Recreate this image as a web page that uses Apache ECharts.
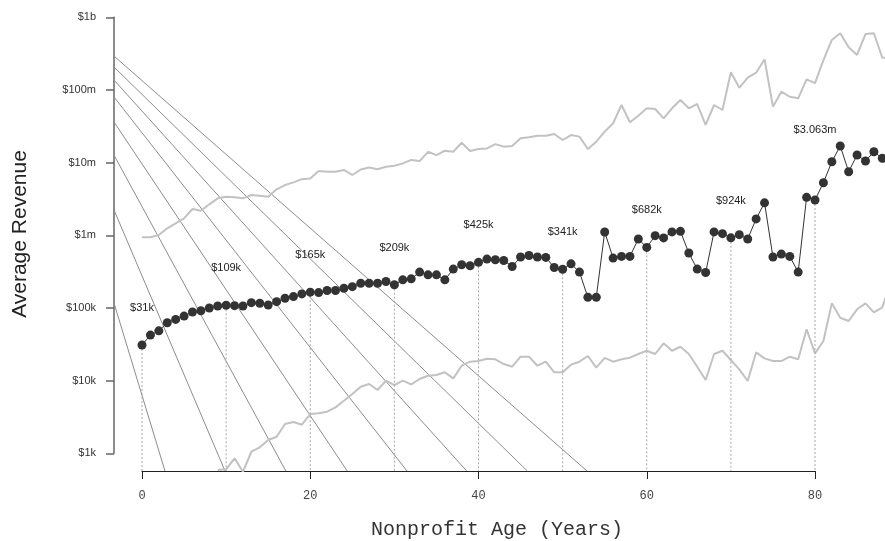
<!DOCTYPE html>
<html><head><meta charset="utf-8">
<script src="https://cdn.jsdelivr.net/npm/echarts/dist/echarts.min.js"></script>
<style>html,body{margin:0;padding:0;background:#fff}#c{width:885px;height:541px}</style>
</head><body><div id="c"></div>
<script>
// ---- data (dollars) ----
const ages = [0,1,2,3,4,5,6,7,8,9,10,11,12,13,14,15,16,17,18,19,20,21,22,23,24,25,26,27,28,29,30,31,32,33,34,35,36,37,38,39,40,41,42,43,44,45,46,47,48,49,50,51,52,53,54,55,56,57,58,59,60,61,62,63,64,65,66,67,68,69,70,71,72,73,74,75,76,77,78,79,80,81,82,83,84,85,86,87,88,89];
const meanRevenue = [31000,42400,48500,62700,69700,77400,88100,91800,100000,106700,109000,107600,106700,118300,116100,109900,122200,136100,143500,156300,165000,162900,173800,173800,187100,196800,219300,219300,218800,231200,209000,243800,251800,311900,285800,285800,243800,342800,393600,381100,425000,471000,461300,450800,372400,502300,528400,502300,496600,360600,341000,405500,311900,140600,140600,1112000,486400,512900,512900,891300,682000,988600,920400,1114000,1135000,570200,342800,307600,1114000,1054000,924000,1021000,891300,1683000,2799000,502300,552100,512900,311900,3334000,3063000,5297000,10300000,16940000,7499000,12740000,10520000,14130000,11480000,null];
const upperRevenue = [9.4e5,9.4e5,1.01e6,1.25e6,1.46e6,1.71e6,2.30e6,2.18e6,2.67e6,3.23e6,3.40e6,3.33e6,3.23e6,3.59e6,3.51e6,3.40e6,4.30e6,4.92e6,5.36e6,5.93e6,6.03e6,7.67e6,7.50e6,7.50e6,7.93e6,6.76e6,8.04e6,8.55e6,8.13e6,8.79e6,9.08e6,9.77e6,1.09e7,1.05e7,1.41e7,1.27e7,1.46e7,1.41e7,1.88e7,1.45e7,1.54e7,1.57e7,1.80e7,1.66e7,1.69e7,2.16e7,2.23e7,2.35e7,2.35e7,2.48e7,2.05e7,2.40e7,2.28e7,1.54e7,1.94e7,2.67e7,3.48e7,6.21e7,3.59e7,4.43e7,5.60e7,5.47e7,4.07e7,5.60e7,7.28e7,5.60e7,6.41e7,3.30e7,6.21e7,5.30e7,1.75e8,1.07e8,1.48e8,1.73e8,2.64e8,5.89e7,9.46e7,8.07e7,7.67e7,1.40e8,1.24e8,2.58e8,4.88e8,6.03e8,3.86e8,3.03e8,5.89e8,6.03e8,2.78e8,2.75e8];
const lowerRevenue = [null,null,null,null,null,null,null,null,null,589,603,855,558,1052,1211,1524,1694,2535,2698,2477,3475,3556,3741,4295,5297,6546,8260,8995,7430,10000,8710,10000,8913,10540,11700,11970,13030,10760,16070,18240,18620,20040,19680,16940,15560,21380,21380,16070,18240,13030,13030,16600,18240,21830,15140,20610,18240,19680,20700,23280,25820,23280,32660,25820,29310,23280,15560,10210,23280,25820,19230,14320,9886,24550,20280,18620,18620,21380,19680,50930,23770,35160,115900,73450,66220,95940,115900,87100,102100,223900];
// reference guide lines: value at the left edge of the plot, and age where each reaches the bottom
const guideStartRevenue = [117000,2.23e6,1.27e7,3.62e7,8.0e7,1.37e8,2.07e8,2.93e8];
const guideEndAge = [2.73,9.87,17.1,24.4,31.5,38.6,45.8,52.9];
const labelAges = [0,10,20,30,40,50,60,70,80];
const yTickValues = [3,4,5,6,7,8,9];
const yTickLabels = ['$1k','$10k','$100k','$1m','$10m','$100m','$1b'];
const xTitle = 'Nonprofit Age (Years)';
const yTitle = 'Average Revenue';

// ---- layout ----
const X_MIN = -3.33, X_MAX = 88.32, Y_MIN = 2.757, Y_MAX = 9;
const lg = v => Math.log10(v);
const fmt = v => v >= 1e6 ? '$' + (v/1e6).toFixed(3) + 'm' : '$' + Math.round(v/1000) + 'k';

const series = [];
guideStartRevenue.forEach((s, i) => {
  series.push({type:'line', xAxisIndex:0, yAxisIndex:0, silent:true, symbol:'none', z:1,
    lineStyle:{color:'#8c8c8c', width:1},
    data:[[X_MIN, lg(s)], [guideEndAge[i], Y_MIN]]});
});
series.push({type:'line', xAxisIndex:0, yAxisIndex:0, silent:true, symbol:'none', z:2,
  lineStyle:{color:'#c2c2c2', width:2},
  data: ages.map((a,i)=>upperRevenue[i]==null?null:[a, lg(upperRevenue[i])]).filter(d=>d)});
series.push({type:'line', xAxisIndex:0, yAxisIndex:0, silent:true, symbol:'none', z:2,
  lineStyle:{color:'#c2c2c2', width:2},
  data: ages.map((a,i)=>lowerRevenue[i]==null?null:[a, lg(lowerRevenue[i])]).filter(d=>d)});
labelAges.forEach(a => {
  const i = ages.indexOf(a);
  series.push({type:'line', xAxisIndex:0, yAxisIndex:0, silent:true, symbol:'none', z:3,
    lineStyle:{color:'#a8a8a8', width:1, type:[2,2]},
    data:[[a, lg(meanRevenue[i])], [a, Y_MIN]]});
});
series.push({type:'line', xAxisIndex:0, yAxisIndex:0, silent:true, z:5,
  symbol:'circle', symbolSize:9, showAllSymbol:true,
  itemStyle:{color:'#333333', borderWidth:0},
  lineStyle:{color:'#333333', width:1},
  data: ages.map((a,i)=>{
    if (meanRevenue[i]==null) return null;
    const d = {value:[a, lg(meanRevenue[i])]};
    if (labelAges.indexOf(a) >= 0) {
      d.label = {show:true, position:'inside', offset:[0, a===80?-70:-37],
        formatter: fmt(meanRevenue[i]), color:'#222', fontSize:11,
        fontFamily:'Liberation Sans, Arial, sans-serif'};
    }
    return d;
  }).filter(d=>d)});

const option = {
  animation:false,
  backgroundColor:'#ffffff',
  grid:[
    {left:114, right:0, top:17.3, bottom:70},
    {left:142, right:70, top:400, bottom:70},
    {left:114, width:10, top:17.3, bottom:87.7}
  ],
  xAxis:[
    {type:'value', gridIndex:0, min:X_MIN, max:X_MAX, show:false},
    {type:'value', gridIndex:1, min:0, max:80, interval:20,
      axisLine:{show:true, onZero:false, lineStyle:{color:'#222', width:1}},
      axisTick:{show:true, length:8, lineStyle:{color:'#222', width:1}},
      axisLabel:{margin:19, color:'#444', fontSize:12, fontFamily:'Liberation Mono, Courier New, monospace'},
      splitLine:{show:false}},
    {type:'value', gridIndex:2, show:false, min:0, max:1}
  ],
  yAxis:[
    {type:'value', gridIndex:0, min:Y_MIN, max:Y_MAX, show:false},
    {type:'value', gridIndex:1, show:false, min:0, max:1},
    {type:'value', gridIndex:2, min:3, max:9, interval:1, position:'left',
      axisLine:{show:true, onZero:false, lineStyle:{color:'#666', width:1.5}},
      axisTick:{show:true, length:8, lineStyle:{color:'#666', width:1.5}},
      axisLabel:{margin:18, color:'#333', fontSize:11, fontFamily:'Liberation Sans, Arial, sans-serif',
        formatter: v => yTickLabels[yTickValues.indexOf(Math.round(v))] || ''},
      splitLine:{show:false}}
  ],
  graphic:[
    {type:'text', x:20, y:234, rotation:Math.PI/2,
      style:{text:yTitle, x:0, y:0, textAlign:'center', textVerticalAlign:'middle',
        font:'21px "Liberation Sans", Arial, sans-serif', fill:'#222'}},
    {type:'text', x:497, y:530,
      style:{text:xTitle, x:0, y:0, textAlign:'center', textVerticalAlign:'middle',
        font:'20px "Liberation Mono", "Courier New", monospace', fill:'#333'}}
  ],
  series: series
};
const chart = echarts.init(document.getElementById('c'), null, {renderer:'canvas'});
chart.setOption(option);
</script></body></html>
